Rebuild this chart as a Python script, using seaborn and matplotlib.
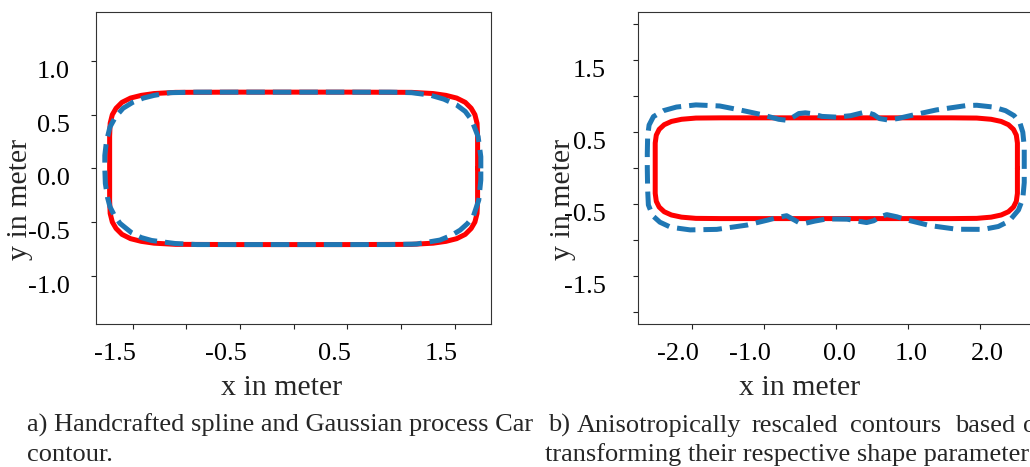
import matplotlib
matplotlib.use("Agg")
import matplotlib.pyplot as plt
from matplotlib.transforms import ScaledTranslation
import numpy as np
import pandas as pd
import seaborn as sns

# ---------------------------------------------------------------------------
# Contour data (metres), traced counter-clockwise starting on the right side
# ---------------------------------------------------------------------------
# a) handcrafted spline contour of the car
spline_a_x = [1.715, 1.715, 1.71, 1.69, 1.655, 1.60, 1.52, 1.42, 1.30, 1.10, 0.50, 0.00,
              -0.50, -1.10, -1.30, -1.42, -1.52, -1.60, -1.655, -1.69, -1.71, -1.715, -1.715,
              -1.715, -1.71, -1.69, -1.655, -1.60, -1.52, -1.42, -1.30, -1.10, -0.50, 0.00,
              0.50, 1.10, 1.30, 1.42, 1.52, 1.60, 1.655, 1.69, 1.71, 1.715, 1.715]
spline_a_y = [0.00, 0.30, 0.42, 0.50, 0.56, 0.615, 0.655, 0.68, 0.697, 0.708, 0.71, 0.71,
              0.71, 0.708, 0.697, 0.68, 0.655, 0.615, 0.56, 0.50, 0.42, 0.30, 0.00,
              -0.30, -0.42, -0.50, -0.56, -0.615, -0.655, -0.68, -0.697, -0.708, -0.71, -0.71,
              -0.71, -0.708, -0.697, -0.68, -0.655, -0.615, -0.56, -0.50, -0.42, -0.30, 0.00]

# a) Gaussian process contour of the car
gp_a_x = [1.745, 1.745, 1.72, 1.66, 1.60, 1.52, 1.40, 1.27, 1.10, 0.90, 0.00, -0.90,
          -1.15, -1.30, -1.40, -1.50, -1.59, -1.66, -1.712, -1.745, -1.76, -1.76, -1.755,
          -1.735, -1.712, -1.67, -1.618, -1.51, -1.42, -1.323, -1.106, -0.90, 0.00, 0.90,
          1.146, 1.364, 1.47, 1.553, 1.62, 1.674, 1.726, 1.745, 1.745]
gp_a_y = [0.00, 0.108, 0.295, 0.45, 0.53, 0.59, 0.645, 0.683, 0.705, 0.71, 0.71, 0.71,
          0.705, 0.68, 0.655, 0.615, 0.56, 0.48, 0.385, 0.25, 0.12, 0.00, -0.14,
          -0.27, -0.358, -0.44, -0.513, -0.60, -0.645, -0.672, -0.70, -0.71, -0.71, -0.71,
          -0.705, -0.668, -0.625, -0.575, -0.515, -0.45, -0.295, -0.109, 0.00]

# b) anisotropically rescaled spline contour
spline_b_x = [2.515, 2.515, 2.50, 2.46, 2.39, 2.29, 2.15, 1.95, 1.60, 0.00,
              -1.60, -1.95, -2.15, -2.29, -2.39, -2.46, -2.50, -2.515, -2.515,
              -2.515, -2.50, -2.46, -2.39, -2.29, -2.15, -1.95, -1.60, 0.00,
              1.60, 1.95, 2.15, 2.29, 2.39, 2.46, 2.50, 2.515, 2.515]
spline_b_y = [0.00, 0.35, 0.46, 0.54, 0.605, 0.65, 0.68, 0.697, 0.70, 0.70,
              0.70, 0.697, 0.68, 0.65, 0.605, 0.54, 0.46, 0.35, 0.00,
              -0.35, -0.46, -0.54, -0.605, -0.65, -0.68, -0.697, -0.70, -0.70,
              -0.70, -0.697, -0.68, -0.65, -0.605, -0.54, -0.46, -0.35, 0.00]

# b) anisotropically rescaled Gaussian process contour
gp_b_x = [2.61, 2.61, 2.59, 2.55, 2.47, 2.35, 2.18, 1.95, 1.80, 1.39, 1.07, 0.85, 0.72,
          0.60, 0.52, 0.45, 0.36, 0.20, 0.00, -0.20, -0.35, -0.43, -0.52, -0.60, -0.68,
          -0.80, -1.06, -1.34, -1.62, -1.95, -2.22, -2.40, -2.54, -2.60, -2.62, -2.625,
          -2.625, -2.62, -2.61, -2.55, -2.45, -2.30, -2.03, -1.66, -1.24, -0.95, -0.82,
          -0.69, -0.60, -0.52, -0.43, -0.30, -0.13, 0.15, 0.30, 0.42, 0.52, 0.60, 0.70,
          0.84, 0.98, 1.30, 1.67, 2.04, 2.25, 2.40, 2.53, 2.59, 2.61, 2.61]
gp_b_y = [0.00, 0.30, 0.50, 0.63, 0.73, 0.80, 0.85, 0.875, 0.87, 0.81, 0.74, 0.69, 0.67,
          0.69, 0.745, 0.768, 0.77, 0.73, 0.71, 0.72, 0.76, 0.77, 0.76, 0.71, 0.665,
          0.68, 0.75, 0.81, 0.865, 0.88, 0.85, 0.80, 0.717, 0.60, 0.45, 0.20,
          0.00, -0.30, -0.51, -0.66, -0.75, -0.82, -0.857, -0.85, -0.79, -0.72, -0.685,
          -0.66, -0.71, -0.755, -0.765, -0.735, -0.704, -0.708, -0.735, -0.755, -0.73, -0.68, -0.645,
          -0.675, -0.718, -0.797, -0.848, -0.85, -0.81, -0.735, -0.58, -0.42, -0.20, 0.00]

# Axis ticks and tick labels
a_xticks = [-1.5, -1.0, -0.5, 0.0, 0.5, 1.0, 1.5]
a_xticklabels = ["-1.5", "", "-0.5", "", "0.5", "", "1.5"]
a_yticks = [-1.0, -0.5, 0.0, 0.5, 1.0]
a_yticklabels = ["-1.0", "-0.5", "0.0", "0.5", "1.0"]
b_xticks = [-2.0, -1.0, 0.0, 1.0, 2.0]
b_xticklabels = ["-2.0", "-1.0", "0.0", "1.0", "2.0"]
b_yticks = [-2.0, -1.5, -1.0, -0.5, 0.0, 0.5, 1.0, 1.5, 2.0]
b_yticklabels = ["", "-1.5", "", "-0.5", "", "0.5", "", "1.5", ""]

caption_a = ["a) Handcrafted spline and Gaussian process Car", "contour."]
caption_b_line1 = ["b)", "Anisotropically", "rescaled", "contours", "based", "on"]
caption_b_line2 = "transforming their respective shape parameters."

# ---------------------------------------------------------------------------
sns.set_theme(style="ticks")
plt.rcParams["font.family"] = ["Liberation Serif", "DejaVu Serif"]
plt.rcParams["axes.edgecolor"] = "#333333"
plt.rcParams["axes.linewidth"] = 0.8

RED = "#ff0000"
BLUE = "#1f77b4"
LW = 3.6

fig = plt.figure(figsize=(10.3, 4.67), dpi=100)
ax_a = fig.add_axes([0.0929, 0.3062, 0.3838, 0.6675])
ax_b = fig.add_axes([0.6197, 0.3062, 0.3845, 0.6675])

frames = {
    "a_spline": pd.DataFrame({"x": spline_a_x, "y": spline_a_y}),
    "a_gp": pd.DataFrame({"x": gp_a_x, "y": gp_a_y}),
    "b_spline": pd.DataFrame({"x": spline_b_x, "y": spline_b_y}),
    "b_gp": pd.DataFrame({"x": gp_b_x, "y": gp_b_y}),
}

for ax, key in ((ax_a, "a"), (ax_b, "b")):
    sns.lineplot(data=frames[f"{key}_spline"], x="x", y="y", sort=False, estimator=None,
                 color=RED, linewidth=LW, ax=ax)
    sns.lineplot(data=frames[f"{key}_gp"], x="x", y="y", sort=False, estimator=None,
                 color=BLUE, linewidth=LW, linestyle="--", ax=ax)
    for side in ("top", "right", "left", "bottom"):
        ax.spines[side].set_visible(True)
        ax.spines[side].set_color("#333333")

ax_a.set_xlim(-1.845, 1.84)
ax_a.set_ylim(-1.45, 1.454)
ax_b.set_xlim(-2.75, 2.75)
ax_b.set_ylim(-2.165, 2.167)

TICK_FS = 19
LABEL_FS = 21.5


def style_axis(ax, xticks, xlabels, yticks, ylabels, ypad, xshift_px, xlab_pos, ylab_pos):
    ax.tick_params(axis="both", direction="out", length=4.9 * 72 / 100, width=0.8,
                   color="#222222", labelsize=TICK_FS, labelcolor="black")
    ax.tick_params(axis="x", pad=10)
    ax.tick_params(axis="y", pad=ypad)
    ax.set_xticks(xticks, xlabels, fontsize=TICK_FS)
    ax.set_yticks(yticks, ylabels, fontsize=TICK_FS, va="top")
    for lbl, dx in zip(ax.get_xticklabels(), xshift_px):
        lbl.set_transform(lbl.get_transform() + ScaledTranslation(dx / 100, 0, fig.dpi_scale_trans))
    ax.set_xlabel("x in meter", fontsize=LABEL_FS, va="center")
    ax.set_ylabel("y in meter", fontsize=LABEL_FS, va="center")
    ax.xaxis.set_label_coords(*xlab_pos)
    ax.yaxis.set_label_coords(*ylab_pos)


style_axis(ax_a, a_xticks, a_xticklabels, a_yticks, a_yticklabels, ypad=15,
           xshift_px=[-18, 0, -14, 0, -13, 0, -13],
           xlab_pos=(0.471, -0.204), ylab_pos=(-0.1915, 0.401))
style_axis(ax_b, b_xticks, b_xticklabels, b_yticks, b_yticklabels, ypad=19.7,
           xshift_px=[-14, -14, 3, 3, 7],
           xlab_pos=(0.406, -0.204), ylab_pos=(-0.189, 0.401))

# Captions below the panels
CAP_FS = 19
fig.text(26.7 / 1030, 1 - 432 / 467, caption_a[0], fontsize=CAP_FS, va="baseline", ha="left")
fig.text(26.7 / 1030, 1 - 461 / 467, caption_a[1], fontsize=CAP_FS, va="baseline", ha="left")
for word, x_px in zip(caption_b_line1, [548, 576.7, 752, 850, 955, 1023]):
    fig.text(x_px / 1030, 1 - 432 / 467, word, fontsize=CAP_FS, va="baseline", ha="left")
fig.text(545 / 1030, 1 - 461 / 467, caption_b_line2, fontsize=CAP_FS, va="baseline", ha="left")

fig.savefig("out.png", dpi=100)
